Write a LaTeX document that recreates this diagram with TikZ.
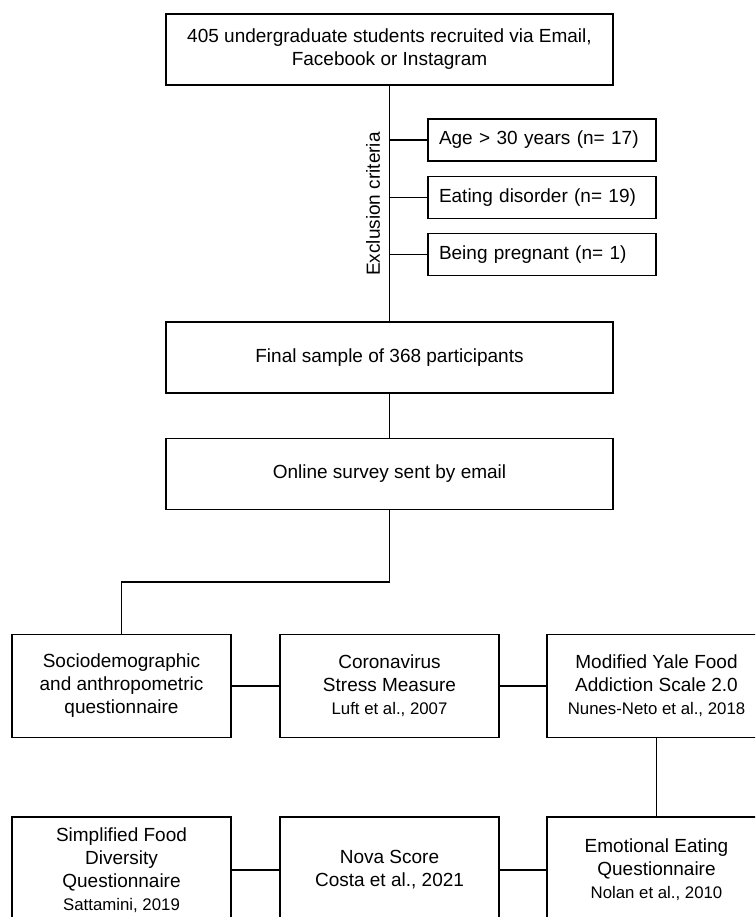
\documentclass[tikz,border=0pt]{standalone}
\usepackage{fontspec}
\setmainfont{Liberation Sans}

\newcommand{\refsize}{\fontsize{16.8}{22}\selectfont}

\begin{document}
\begin{tikzpicture}[x=1pt, y=-1pt, line width=1.9pt,
  box/.style={draw, rectangle, align=center, inner sep=3pt,
              font=\fontsize{19}{23}\selectfont},
  widebox/.style={box, minimum width=447, minimum height=71},
  exclbox/.style={box, text width=206, align=left, inner xsep=11pt,
                  minimum height=42},
  toolbox/.style={box, minimum width=219, minimum height=103},
  lowbox/.style={box, minimum width=219, minimum height=106}]

\clip (0,0) rectangle (755,917);

% Sample
\node[widebox] (recruited) at (389.5,49.5)
  {405 undergraduate students recruited via Email,\\Facebook or Instagram};
\node[widebox] (final) at (389.5,357.5) {Final sample of 368 participants};
\node[widebox] (survey) at (389.5,474) {Online survey sent by email};

\draw (recruited) -- (final);
\draw (final) -- (survey);

% Exclusion criteria
\node[rotate=90, font=\fontsize{19}{23}\selectfont] (criteria) at (373,204)
  {Exclusion criteria};

\foreach \nm/\yy/\txt in {age/140/{Age > 30 years (n= 17)},
                          eating/197.5/{Eating disorder (n= 19)},
                          pregnant/254.5/{Being pregnant (n= 1)}} {
  \node[exclbox] (\nm) at (542,\yy) {\txt};
  \draw (\nm.west) -- (\nm.west -| recruited.south);
}

% Questionnaires
\node[toolbox] (socio) at (121.5,686)
  {Sociodemographic\\and anthropometric\\questionnaire};
\node[toolbox] (stress) at (389.5,686)
  {Coronavirus\\Stress Measure\\{\refsize Luft et al., 2007}};
\node[toolbox] (yfas) at (656.5,686)
  {Modified Yale Food\\Addiction Scale 2.0\\{\refsize Nunes-Neto et al., 2018}};

\node[lowbox] (diversity) at (121.5,870)
  {Simplified Food\\Diversity\\Questionnaire\\{\refsize Sattamini, 2019}};
\node[lowbox] (nova) at (389.5,870) {Nova Score\\Costa et al., 2021};
\node[lowbox] (eeq) at (656.5,870)
  {Emotional Eating\\Questionnaire\\{\refsize Nolan et al., 2010}};

\coordinate (split) at (121.5,582);
\draw (survey.south) |- (split) -- (socio.north);

\draw (socio) -- (stress);
\draw (stress) -- (yfas);
\draw (yfas) -- (eeq);
\draw (diversity) -- (nova);
\draw (nova) -- (eeq);

\end{tikzpicture}
\end{document}
